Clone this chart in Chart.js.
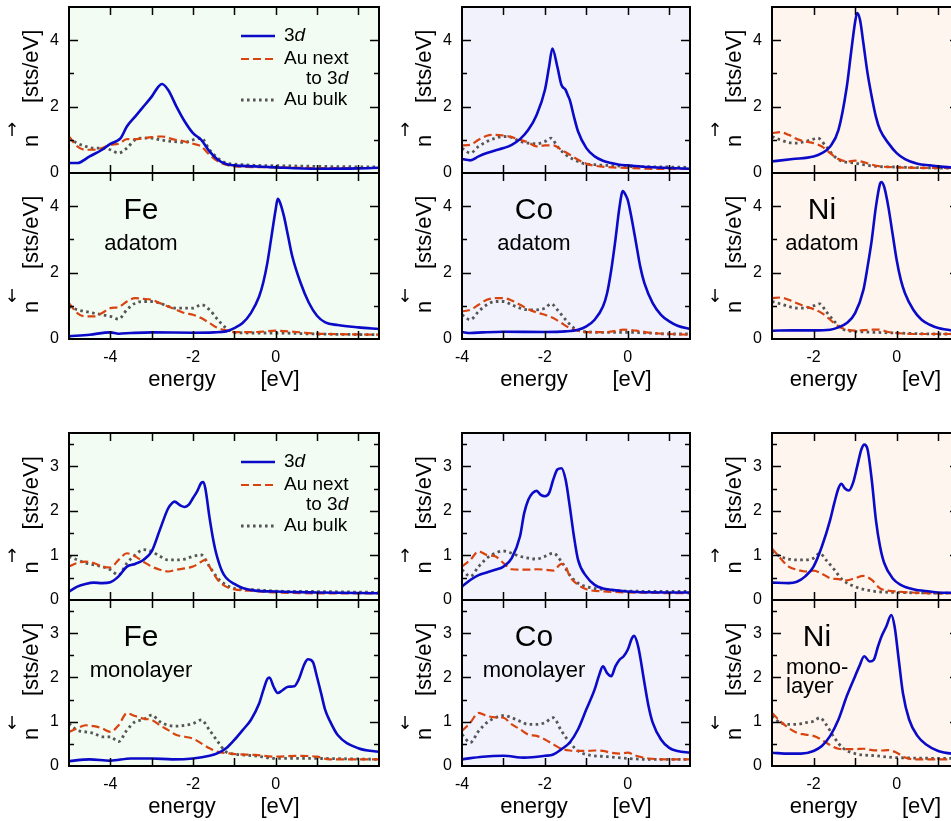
<!DOCTYPE html>
<html>
<head>
<meta charset="utf-8">
<script src="https://cdn.jsdelivr.net/npm/chart.js@4.4.0/dist/chart.umd.min.js"></script>
<style>
  html, body { margin: 0; padding: 0; background: #fff; }
  #wrap { position: relative; width: 951px; height: 821px; overflow: hidden; }
  #wrap canvas { position: absolute; }
</style>
</head>
<body>
<div id="wrap"></div>
<script>
// Density of states, [energy eV, states/eV]

// Fe adatom
const feAdUp3d = [[-5,0.3],[-4.8,0.3],[-4.5,0.5],[-4.2,0.7],[-4,0.88],[-3.85,0.96],[-3.75,1.05],[-3.6,1.4],[-3.4,1.7],[-3.2,2.0],[-3,2.3],[-2.85,2.58],[-2.75,2.68],[-2.6,2.5],[-2.4,2.0],[-2.2,1.55],[-2,1.2],[-1.8,1.0],[-1.6,0.65],[-1.4,0.4],[-1.2,0.27],[-1,0.23],[-0.5,0.2],[0,0.17],[1,0.13],[2,0.14],[2.5,0.16]]
const feAdUpNext = [[-5,1.1],[-4.8,0.8],[-4.6,0.7],[-4.4,0.7],[-4.2,0.75],[-4,0.85],[-3.8,0.88],[-3.6,1.02],[-3.4,1.02],[-3.2,1.05],[-3,1.08],[-2.75,1.1],[-2.5,1.02],[-2.2,0.95],[-2,0.88],[-1.8,0.8],[-1.6,0.55],[-1.4,0.35],[-1.2,0.25],[-1,0.2],[0,0.17],[1,0.15],[2.5,0.15]]
const feAdUpBulk = [[-5,1.05],[-4.8,0.9],[-4.6,0.8],[-4.4,0.75],[-4.2,0.75],[-4,0.7],[-3.8,0.6],[-3.6,0.75],[-3.4,1.0],[-3.2,1.05],[-3,1.05],[-2.8,1.0],[-2.5,0.95],[-2.2,0.92],[-2,1.0],[-1.8,1.05],[-1.6,0.7],[-1.4,0.45],[-1.2,0.3],[-1,0.27],[-0.5,0.23],[0,0.22],[1,0.2],[2.5,0.18]]
const feAdDn3d = [[-5,0.08],[-4.5,0.13],[-4,0.2],[-3.8,0.16],[-3.5,0.18],[-3,0.2],[-2,0.19],[-1.5,0.2],[-1.2,0.23],[-1,0.33],[-0.8,0.48],[-0.6,0.78],[-0.4,1.28],[-0.3,1.7],[-0.2,2.3],[-0.1,3.1],[0,3.9],[0.05,4.22],[0.1,4.13],[0.2,3.7],[0.3,3.1],[0.4,2.5],[0.6,1.7],[0.8,1.1],[1,0.7],[1.2,0.5],[1.5,0.42],[2,0.35],[2.5,0.3]]
const feAdDnNext = [[-5,1.08],[-4.8,0.78],[-4.6,0.68],[-4.4,0.68],[-4.2,0.78],[-4,0.93],[-3.8,0.96],[-3.6,1.13],[-3.4,1.23],[-3.2,1.21],[-3,1.18],[-2.8,1.08],[-2.6,0.98],[-2.4,0.88],[-2.2,0.78],[-2,0.73],[-1.8,0.63],[-1.6,0.48],[-1.4,0.33],[-1.2,0.26],[-1,0.21],[-0.5,0.21],[0,0.25],[0.5,0.21],[1,0.16],[1.3,0.15],[2.5,0.13]]
const feAdDnBulk = [[-5,0.98],[-4.8,0.88],[-4.6,0.83],[-4.4,0.78],[-4.2,0.73],[-4,0.68],[-3.8,0.6],[-3.6,0.88],[-3.4,1.08],[-3.2,1.13],[-3,1.13],[-2.8,1.08],[-2.6,0.98],[-2.4,0.93],[-2.2,0.93],[-2,0.93],[-1.8,1.03],[-1.6,0.88],[-1.4,0.58],[-1.2,0.33],[-1,0.2],[-0.5,0.18],[0,0.18],[1,0.15],[2.5,0.13]]

// Co adatom
const coAdUp3d = [[-4,0.42],[-3.8,0.38],[-3.6,0.5],[-3.4,0.6],[-3.2,0.68],[-3,0.75],[-2.8,0.85],[-2.6,1.02],[-2.4,1.3],[-2.2,1.75],[-2,2.5],[-1.9,3.2],[-1.82,3.75],[-1.7,3.2],[-1.6,2.65],[-1.5,2.5],[-1.45,2.35],[-1.4,2.2],[-1.3,1.7],[-1.2,1.25],[-1,0.75],[-0.8,0.5],[-0.6,0.37],[-0.4,0.3],[-0.2,0.25],[0,0.23],[0.5,0.18],[1,0.15],[1.5,0.13]]
const coAdUpNext = [[-4,0.83],[-3.8,0.85],[-3.6,1.0],[-3.4,1.12],[-3.2,1.15],[-3,1.13],[-2.8,1.08],[-2.6,1.0],[-2.4,0.92],[-2.2,0.8],[-2,0.83],[-1.8,0.83],[-1.6,0.7],[-1.4,0.55],[-1.2,0.4],[-1,0.28],[-0.8,0.22],[-0.5,0.18],[0,0.15],[1,0.12],[1.5,0.12]]
const coAdUpBulk = [[-4,0.75],[-3.8,0.6],[-3.6,0.8],[-3.4,0.95],[-3.2,1.05],[-3,1.1],[-2.8,1.07],[-2.6,0.95],[-2.4,0.9],[-2.2,0.88],[-2,0.95],[-1.85,1.05],[-1.7,0.8],[-1.5,0.55],[-1.3,0.4],[-1.1,0.3],[-0.8,0.25],[-0.5,0.23],[0,0.2],[1,0.18],[1.5,0.17]]
const coAdDn3d = [[-4,0.21],[-3.8,0.18],[-3.5,0.2],[-3,0.22],[-2,0.21],[-1.5,0.23],[-1.2,0.28],[-1,0.38],[-0.8,0.58],[-0.6,0.98],[-0.5,1.38],[-0.4,2.08],[-0.3,2.98],[-0.2,3.98],[-0.12,4.46],[-0.05,4.33],[0,4.18],[0.1,3.58],[0.2,2.88],[0.3,2.18],[0.4,1.68],[0.6,1.08],[0.8,0.73],[1,0.53],[1.2,0.4],[1.5,0.3]]
const coAdDnNext = [[-4,0.83],[-3.8,0.88],[-3.6,1.03],[-3.4,1.18],[-3.2,1.23],[-3,1.23],[-2.8,1.16],[-2.6,1.03],[-2.4,0.9],[-2.2,0.8],[-2,0.73],[-1.8,0.63],[-1.6,0.48],[-1.4,0.33],[-1.2,0.25],[-1,0.21],[-0.5,0.21],[-0.1,0.28],[0.2,0.25],[0.6,0.18],[1,0.15],[1.5,0.13]]
const coAdDnBulk = [[-4,0.73],[-3.8,0.58],[-3.6,0.83],[-3.4,1.03],[-3.2,1.13],[-3,1.13],[-2.8,1.03],[-2.6,0.93],[-2.4,0.88],[-2.2,0.88],[-2,0.93],[-1.85,1.06],[-1.7,0.88],[-1.5,0.58],[-1.3,0.33],[-1.1,0.23],[-0.5,0.2],[0,0.2],[0.5,0.18],[1,0.15],[1.5,0.15]]

// Ni adatom
const niAdUp3d = [[-3,0.35],[-2.5,0.42],[-2,0.5],[-1.8,0.6],[-1.6,0.8],[-1.4,1.3],[-1.2,2.6],[-1.1,3.6],[-1,4.55],[-0.95,4.82],[-0.88,4.6],[-0.8,3.9],[-0.7,3.0],[-0.6,2.3],[-0.5,1.7],[-0.4,1.3],[-0.2,0.9],[0,0.6],[0.2,0.42],[0.5,0.28],[0.8,0.23],[1,0.2],[1.5,0.15]]
const niAdUpNext = [[-3,1.2],[-2.8,1.23],[-2.6,1.15],[-2.4,1.02],[-2.2,0.95],[-2,0.9],[-1.8,0.8],[-1.6,0.6],[-1.4,0.42],[-1.2,0.35],[-1,0.37],[-0.8,0.33],[-0.6,0.25],[-0.4,0.2],[0,0.17],[1,0.15],[1.5,0.15]]
const niAdUpBulk = [[-3,1.1],[-2.8,1.0],[-2.6,0.92],[-2.4,0.9],[-2.2,0.95],[-2,1.02],[-1.9,1.05],[-1.7,0.8],[-1.5,0.5],[-1.3,0.35],[-1,0.3],[-0.8,0.25],[-0.5,0.2],[0,0.18],[1,0.15],[1.5,0.15]]
const niAdDn3d = [[-3,0.25],[-2.5,0.26],[-2,0.26],[-1.6,0.28],[-1.4,0.35],[-1.2,0.48],[-1,0.78],[-0.8,1.48],[-0.7,2.18],[-0.6,2.98],[-0.5,3.98],[-0.4,4.68],[-0.37,4.73],[-0.3,4.58],[-0.2,3.98],[-0.1,3.18],[0,2.38],[0.1,1.78],[0.2,1.38],[0.4,0.88],[0.6,0.58],[0.8,0.43],[1,0.33],[1.5,0.23]]
const niAdDnNext = [[-3,1.23],[-2.8,1.25],[-2.6,1.18],[-2.4,1.08],[-2.2,0.98],[-2,0.9],[-1.8,0.78],[-1.6,0.58],[-1.4,0.38],[-1.2,0.28],[-1,0.25],[-0.6,0.28],[-0.4,0.28],[-0.2,0.21],[0,0.18],[0.5,0.15],[1.5,0.15]]
const niAdDnBulk = [[-3,1.13],[-2.8,1.06],[-2.6,0.98],[-2.4,0.93],[-2.2,0.93],[-2,1.0],[-1.85,1.06],[-1.7,0.83],[-1.5,0.53],[-1.3,0.3],[-1,0.23],[-0.5,0.2],[0,0.18],[1,0.15],[1.5,0.15]]

// Fe monolayer
const feMlUp3d = [[-5,0.19],[-4.8,0.3],[-4.6,0.36],[-4.4,0.39],[-4.2,0.38],[-4,0.4],[-3.8,0.53],[-3.6,0.75],[-3.4,0.81],[-3.2,0.9],[-3,1.09],[-2.8,1.58],[-2.6,2.06],[-2.5,2.18],[-2.45,2.21],[-2.3,2.12],[-2.2,2.09],[-2.1,2.14],[-2,2.29],[-1.9,2.44],[-1.8,2.63],[-1.75,2.65],[-1.7,2.5],[-1.6,1.85],[-1.5,1.3],[-1.44,1.05],[-1.3,0.65],[-1.2,0.5],[-1,0.36],[-0.8,0.27],[-0.5,0.21],[0,0.19],[1,0.17],[2.5,0.15]]
const feMlUpNext = [[-5,0.75],[-4.8,0.83],[-4.6,0.86],[-4.4,0.83],[-4.2,0.75],[-4,0.73],[-3.8,0.9],[-3.6,1.05],[-3.4,0.98],[-3.2,0.86],[-3,0.75],[-2.8,0.68],[-2.6,0.64],[-2.4,0.68],[-2.2,0.71],[-2,0.75],[-1.8,0.86],[-1.7,0.9],[-1.6,0.75],[-1.4,0.45],[-1.2,0.3],[-1,0.24],[-0.5,0.2],[0,0.17],[1,0.15],[2.5,0.15]]
const feMlUpBulk = [[-5,0.98],[-4.8,0.9],[-4.6,0.83],[-4.4,0.79],[-4.2,0.75],[-4,0.68],[-3.8,0.56],[-3.6,0.83],[-3.4,1.01],[-3.2,1.13],[-3,1.09],[-2.8,0.98],[-2.6,0.9],[-2.4,0.9],[-2.2,0.92],[-2,0.98],[-1.8,1.01],[-1.6,0.75],[-1.4,0.49],[-1.2,0.34],[-1,0.26],[-0.5,0.23],[0,0.2],[1,0.19],[2.5,0.17]]
const feMlDn3d = [[-5,0.11],[-4.5,0.15],[-4,0.12],[-3.5,0.17],[-3,0.17],[-2.5,0.15],[-2,0.17],[-1.6,0.23],[-1.4,0.29],[-1.2,0.4],[-1,0.59],[-0.8,0.81],[-0.6,1.04],[-0.4,1.41],[-0.3,1.71],[-0.2,1.97],[-0.15,2.0],[-0.05,1.79],[0.05,1.65],[0.15,1.7],[0.3,1.79],[0.45,1.8],[0.55,1.94],[0.7,2.31],[0.78,2.41],[0.9,2.35],[1,2.01],[1.1,1.64],[1.2,1.26],[1.3,1.04],[1.5,0.7],[2,0.4],[2.5,0.32]]
const feMlDnNext = [[-5,0.77],[-4.8,0.85],[-4.6,0.92],[-4.4,0.9],[-4.2,0.85],[-4,0.77],[-3.8,0.92],[-3.6,1.19],[-3.4,1.13],[-3.2,1.07],[-3,1.04],[-2.8,0.92],[-2.6,0.81],[-2.4,0.7],[-2.2,0.66],[-2,0.62],[-1.8,0.51],[-1.6,0.4],[-1.4,0.32],[-1.2,0.29],[-1,0.27],[-0.5,0.25],[0,0.21],[0.5,0.23],[1,0.21],[1.3,0.15],[2.5,0.15]]
const feMlDnBulk = [[-5,0.96],[-4.8,0.81],[-4.6,0.77],[-4.4,0.74],[-4.2,0.66],[-4,0.66],[-3.8,0.55],[-3.6,0.81],[-3.4,1.0],[-3.2,1.05],[-3,1.15],[-2.8,1.0],[-2.6,0.92],[-2.4,0.9],[-2.2,0.92],[-2,0.96],[-1.8,1.04],[-1.6,0.81],[-1.4,0.55],[-1.2,0.32],[-1,0.27],[-0.5,0.23],[0,0.17],[1,0.17],[2.5,0.15]]

// Co monolayer
const coMlUp3d = [[-4,0.3],[-3.8,0.45],[-3.6,0.56],[-3.4,0.62],[-3.2,0.68],[-3,0.75],[-2.8,0.94],[-2.6,1.43],[-2.5,1.95],[-2.4,2.25],[-2.3,2.4],[-2.2,2.45],[-2.1,2.36],[-2,2.33],[-1.9,2.4],[-1.8,2.7],[-1.7,2.93],[-1.6,2.96],[-1.5,2.7],[-1.4,2.1],[-1.3,1.43],[-1.2,0.9],[-1,0.53],[-0.8,0.34],[-0.6,0.26],[-0.4,0.23],[0,0.19],[1,0.17],[1.5,0.17]]
const coMlUpNext = [[-4,0.75],[-3.8,0.9],[-3.6,1.09],[-3.4,1.01],[-3.2,0.98],[-3,0.83],[-2.8,0.69],[-2.6,0.68],[-2.4,0.68],[-2.2,0.69],[-2,0.68],[-1.8,0.66],[-1.6,0.81],[-1.5,0.75],[-1.4,0.53],[-1.2,0.34],[-1,0.24],[-0.5,0.19],[0,0.17],[1.5,0.15]]
const coMlUpBulk = [[-4,0.68],[-3.8,0.53],[-3.6,0.75],[-3.4,0.94],[-3.2,1.05],[-3,1.1],[-2.8,1.05],[-2.6,0.98],[-2.4,0.94],[-2.2,0.92],[-2,0.98],[-1.8,1.05],[-1.6,0.86],[-1.4,0.56],[-1.2,0.38],[-1,0.3],[-0.5,0.23],[0,0.2],[1.5,0.19]]
const coMlDn3d = [[-4,0.15],[-3.5,0.21],[-3,0.23],[-2.5,0.19],[-2,0.23],[-1.8,0.26],[-1.6,0.38],[-1.4,0.53],[-1.2,0.83],[-1,1.28],[-0.8,1.73],[-0.7,2.03],[-0.6,2.25],[-0.5,2.1],[-0.4,2.03],[-0.3,2.25],[-0.2,2.4],[-0.1,2.48],[0,2.63],[0.1,2.89],[0.15,2.94],[0.25,2.7],[0.4,1.88],[0.5,1.35],[0.6,0.98],[0.8,0.6],[1,0.41],[1.2,0.34],[1.5,0.3]]
const coMlDnNext = [[-4,0.79],[-3.8,0.98],[-3.6,1.2],[-3.4,1.13],[-3.2,1.1],[-3,1.09],[-2.8,0.94],[-2.6,0.83],[-2.4,0.71],[-2.2,0.68],[-2,0.6],[-1.8,0.49],[-1.6,0.39],[-1.4,0.35],[-1.2,0.34],[-1,0.34],[-0.8,0.35],[-0.6,0.34],[-0.4,0.3],[-0.2,0.28],[0,0.3],[0.2,0.23],[0.5,0.17],[1,0.15],[1.5,0.15]]
const coMlDnBulk = [[-4,0.71],[-3.8,0.53],[-3.6,0.79],[-3.4,0.98],[-3.2,1.09],[-3,1.14],[-2.8,1.09],[-2.6,1.01],[-2.4,0.94],[-2.2,0.94],[-2,0.98],[-1.8,1.09],[-1.6,0.79],[-1.4,0.53],[-1.2,0.34],[-1,0.26],[-0.5,0.21],[0,0.17],[0.5,0.15],[1.5,0.15]]

// Ni monolayer
const niMlUp3d = [[-3,0.39],[-2.6,0.38],[-2.4,0.41],[-2.2,0.53],[-2,0.75],[-1.8,1.2],[-1.6,1.8],[-1.5,2.18],[-1.4,2.51],[-1.33,2.61],[-1.25,2.51],[-1.15,2.46],[-1.05,2.63],[-0.95,3.0],[-0.85,3.38],[-0.78,3.49],[-0.7,3.38],[-0.6,2.7],[-0.5,1.8],[-0.4,1.2],[-0.3,0.83],[-0.1,0.49],[0.1,0.34],[0.4,0.24],[0.8,0.19],[1,0.17],[1.5,0.16]]
const niMlUpNext = [[-3,1.16],[-2.8,0.94],[-2.6,0.75],[-2.4,0.68],[-2.2,0.64],[-2,0.66],[-1.8,0.59],[-1.6,0.49],[-1.4,0.47],[-1.2,0.44],[-1,0.49],[-0.8,0.54],[-0.6,0.45],[-0.4,0.26],[-0.2,0.21],[0,0.19],[1,0.15],[1.5,0.15]]
const niMlUpBulk = [[-3,1.09],[-2.8,0.98],[-2.6,0.92],[-2.4,0.9],[-2.2,0.9],[-2,0.94],[-1.85,1.05],[-1.7,0.9],[-1.5,0.68],[-1.3,0.45],[-1,0.3],[-0.8,0.24],[-0.5,0.19],[0,0.17],[1.5,0.15]]
const niMlDn3d = [[-3,0.3],[-2.6,0.28],[-2.3,0.28],[-2,0.34],[-1.8,0.45],[-1.6,0.68],[-1.4,1.05],[-1.2,1.58],[-1,2.03],[-0.9,2.25],[-0.78,2.48],[-0.65,2.36],[-0.55,2.4],[-0.45,2.7],[-0.35,2.96],[-0.25,3.15],[-0.13,3.41],[-0.05,3.15],[0.05,2.4],[0.15,1.65],[0.3,1.05],[0.5,0.68],[0.7,0.49],[1,0.34],[1.5,0.26]]
const niMlDnNext = [[-3,1.2],[-2.8,1.01],[-2.6,0.86],[-2.4,0.75],[-2.2,0.71],[-2,0.68],[-1.8,0.59],[-1.6,0.47],[-1.4,0.39],[-1.2,0.38],[-1,0.38],[-0.8,0.39],[-0.6,0.36],[-0.4,0.35],[-0.2,0.36],[0,0.3],[0.2,0.19],[0.5,0.15],[1.5,0.15]]
const niMlDnBulk = [[-3,1.13],[-2.8,0.98],[-2.6,0.94],[-2.4,0.94],[-2.2,0.98],[-2,1.01],[-1.85,1.09],[-1.7,0.94],[-1.5,0.64],[-1.3,0.41],[-1,0.28],[-0.5,0.23],[0,0.19],[1.5,0.17]]

const elements = ["Fe", "Co", "Ni"]
const energyRanges = [[-5, 2.5], [-4, 1.5], [-3, 1.5]]
const yMaxAdatom = 5
const yMaxMonolayer = 3.75
const legendLabels = ["3d", "Au next", "to 3d", "Au bulk"]

const panelData = {
  Fe: [[feAdUp3d, feAdUpNext, feAdUpBulk], [feAdDn3d, feAdDnNext, feAdDnBulk], [feMlUp3d, feMlUpNext, feMlUpBulk], [feMlDn3d, feMlDnNext, feMlDnBulk]],
  Co: [[coAdUp3d, coAdUpNext, coAdUpBulk], [coAdDn3d, coAdDnNext, coAdDnBulk], [coMlUp3d, coMlUpNext, coMlUpBulk], [coMlDn3d, coMlDnNext, coMlDnBulk]],
  Ni: [[niAdUp3d, niAdUpNext, niAdUpBulk], [niAdDn3d, niAdDnNext, niAdDnBulk], [niMlUp3d, niMlUpNext, niMlUpBulk], [niMlDn3d, niMlDnNext, niMlDnBulk]],
}

// layout and styles
const FONT = '"Liberation Sans", Arial, Helvetica, sans-serif'
const LINE = {
  d: { color: "#0a0ac8", width: 2.6, dash: [] },
  next: { color: "#d9430f", width: 2.2, dash: [8, 4] },
  bulk: { color: "#555555", width: 2.8, dash: [2.6, 3.4] },
}
const cols = [
  { left: 69, right: 379, bg: "#f2fcf2", tagX: 72 },
  { left: 462, right: 690, bg: "#f2f2fd", tagX: 72 },
  { left: 772, right: 959, bg: "#fef5ef", tagX: 50 },
]
const rows = [
  { top: 7, bottom: 173, ymax: yMaxAdatom, spin: "up" },
  { top: 173, bottom: 339, ymax: yMaxAdatom, spin: "down", sub: "adatom", xaxis: true },
  { top: 433, bottom: 600, ymax: yMaxMonolayer, spin: "up" },
  { top: 600, bottom: 766, ymax: yMaxMonolayer, spin: "down", sub: "monolayer", xaxis: true },
]
const PAD = 12
const YAXIS_W = 69
const XAXIS_H = 70

const pts = (arr) => arr.map(([x, y]) => ({ x, y }))

// scales keep their own label padding out of the layout, panels are placed by hand
const noScalePadding = (s) => {
  s.paddingTop = 0
  s.paddingBottom = 0
  s.paddingLeft = 0
  s.paddingRight = 0
}

function drawLegend(ctx, a) {
  const items = [
    { y: a.top + 29, st: LINE.d },
    { y: a.top + 52, st: LINE.next },
    { y: a.top + 93, st: LINE.bulk },
  ]
  items.forEach((it) => {
    ctx.save()
    ctx.strokeStyle = it.st.color
    ctx.lineWidth = it.st.width
    ctx.setLineDash(it.st.dash)
    ctx.beginPath()
    ctx.moveTo(a.left + 172, it.y)
    ctx.lineTo(a.left + 206, it.y)
    ctx.stroke()
    ctx.restore()
  })
  ctx.fillStyle = "#000"
  ctx.textAlign = "left"
  ctx.textBaseline = "middle"
  const tx = a.left + 215
  // "3d" with italic d
  ctx.font = `19px ${FONT}`
  ctx.fillText("3", tx, a.top + 29)
  let w = ctx.measureText("3").width
  ctx.font = `italic 19px ${FONT}`
  ctx.fillText("d", tx + w, a.top + 29)
  ctx.font = `19px ${FONT}`
  ctx.fillText(legendLabels[1], tx, a.top + 52)
  ctx.fillText("to 3", tx + 22, a.top + 72)
  w = ctx.measureText("to 3").width
  ctx.font = `italic 19px ${FONT}`
  ctx.fillText("d", tx + 22 + w, a.top + 72)
  ctx.font = `19px ${FONT}`
  ctx.fillText(legendLabels[3], tx, a.top + 93)
}

function panelPlugin(meta) {
  return {
    id: "panel",
    beforeDraw(chart) {
      const { ctx, chartArea: a } = chart
      ctx.save()
      ctx.fillStyle = meta.bg
      ctx.fillRect(a.left, a.top, a.right - a.left, a.bottom - a.top)
      ctx.restore()
    },
    afterDraw(chart) {
      const { ctx, chartArea: a } = chart
      const xs = chart.scales.x
      const ys = chart.scales.y
      ctx.save()
      ctx.strokeStyle = "#000"
      ctx.lineWidth = 1.5
      ctx.beginPath()
      // x ticks every 1 eV, inward on top and bottom
      for (let v = Math.ceil(meta.xmin); v <= meta.xmax; v++) {
        if (v === meta.xmin || v === meta.xmax) continue
        const px = Math.round(xs.getPixelForValue(v)) + 0.5
        ctx.moveTo(px, a.top); ctx.lineTo(px, a.top + 8)
        ctx.moveTo(px, a.bottom); ctx.lineTo(px, a.bottom - 8)
      }
      // y ticks, major and minor, inward on left and right
      const step = meta.ymax === yMaxAdatom ? 1 : 0.5
      for (let v = step; v < meta.ymax; v += step) {
        const major = meta.ymax === yMaxAdatom ? v % 2 === 0 : Number.isInteger(v)
        const len = major ? 9 : 5
        const py = Math.round(ys.getPixelForValue(v)) + 0.5
        ctx.moveTo(a.left, py); ctx.lineTo(a.left + len, py)
        ctx.moveTo(a.right, py); ctx.lineTo(a.right - len, py)
      }
      ctx.stroke()
      // frame
      ctx.lineWidth = 2
      ctx.strokeRect(a.left, a.top, a.right - a.left, a.bottom - a.top)

      // y title: n(arrow) [sts/eV]
      const cy = (a.top + a.bottom) / 2
      ctx.fillStyle = "#000"
      ctx.save()
      ctx.translate(a.left - 31, cy)
      ctx.rotate(-Math.PI / 2)
      ctx.font = `22px ${FONT}`
      ctx.textAlign = "left"
      ctx.textBaseline = "alphabetic"
      ctx.fillText("n", -57, 0)
      ctx.fillText("[sts/eV]", -13, 0)
      ctx.restore()
      ctx.font = `18px "DejaVu Sans"`
      ctx.textAlign = "center"
      ctx.textBaseline = "middle"
      ctx.fillText(meta.spin === "up" ? "\u2191" : "\u2193", a.left - 57, cy + 41)

      // x title
      if (meta.xaxis) {
        const cx = (a.left + a.right) / 2
        ctx.font = `22px ${FONT}`
        ctx.textAlign = "center"
        ctx.textBaseline = "alphabetic"
        ctx.fillText("energy", cx - 42, a.bottom + 47)
        ctx.fillText("[eV]", cx + 56, a.bottom + 47)
      }

      // element tag
      if (meta.sub) {
        const tx = a.left + meta.tagX
        ctx.textAlign = "center"
        ctx.textBaseline = "alphabetic"
        ctx.font = `30px ${FONT}`
        if (meta.el === "Ni" && meta.sub === "monolayer") {
          ctx.fillText(meta.el, a.left + 45, a.top + 46)
          ctx.font = `22px ${FONT}`
          ctx.textAlign = "left"
          ctx.fillText("mono-", a.left + 14, a.top + 74)
          ctx.fillText("layer", a.left + 14, a.top + 93)
        } else {
          ctx.fillText(meta.el, tx, a.top + 46)
          ctx.font = `22px ${FONT}`
          ctx.fillText(meta.sub, tx, a.top + 77)
        }
      }

      if (meta.legend) drawLegend(ctx, a)
      ctx.restore()
    },
  }
}

const wrap = document.getElementById("wrap")

elements.forEach((el, ci) => {
  const col = cols[ci]
  const [xmin, xmax] = energyRanges[ci]
  rows.forEach((row, ri) => {
    const [d3, next, bulk] = panelData[el][ri]
    const w = YAXIS_W + (col.right - col.left) + PAD
    const h = PAD + (row.bottom - row.top) + (row.xaxis ? XAXIS_H : PAD)
    const canvas = document.createElement("canvas")
    canvas.width = w
    canvas.height = h
    canvas.style.left = col.left - YAXIS_W + "px"
    canvas.style.top = row.top - PAD + "px"
    canvas.style.width = w + "px"
    canvas.style.height = h + "px"
    wrap.appendChild(canvas)

    const meta = {
      el, xmin, xmax, ymax: row.ymax, spin: row.spin, xaxis: row.xaxis, sub: row.sub,
      bg: col.bg, tagX: col.tagX, legend: ci === 0 && row.spin === "up",
    }
    const ds = (arr, st, order) => ({
      data: pts(arr),
      borderColor: st.color,
      borderWidth: st.width,
      borderDash: st.dash,
      pointRadius: 0,
      fill: false,
      cubicInterpolationMode: "monotone",
      order,
    })

    new Chart(canvas, {
      type: "line",
      data: { datasets: [ds(d3, LINE.d, 0), ds(next, LINE.next, 1), ds(bulk, LINE.bulk, 2)] },
      options: {
        responsive: false,
        animation: false,
        devicePixelRatio: 1,
        events: [],
        layout: { padding: { top: PAD, right: PAD, bottom: row.xaxis ? 0 : PAD, left: 0 } },
        plugins: { legend: { display: false }, tooltip: { enabled: false } },
        scales: {
          x: {
            type: "linear",
            min: xmin,
            max: xmax,
            display: !!row.xaxis,
            grid: { display: false, drawTicks: false },
            border: { display: false },
            ticks: {
              stepSize: 1,
              autoSkip: false,
              maxRotation: 0,
              padding: 9,
              color: "#000",
              font: { family: FONT, size: 16 },
              callback: (v) => (Number.isInteger(v) && v % 2 === 0 ? String(v) : ""),
            },
            afterFit: (s) => {
              noScalePadding(s)
              if (row.xaxis) s.height = XAXIS_H
            },
          },
          y: {
            type: "linear",
            min: 0,
            max: row.ymax,
            grid: { display: false, drawTicks: false },
            border: { display: false },
            ticks: {
              stepSize: row.ymax === yMaxAdatom ? 1 : 0.5,
              autoSkip: false,
              padding: 10,
              color: "#000",
              font: { family: FONT, size: 16 },
              callback: (v) => {
                if (!Number.isInteger(v)) return ""
                if (row.ymax === yMaxAdatom && v % 2 !== 0) return ""
                return String(v)
              },
            },
            afterFit: (s) => {
              noScalePadding(s)
              s.width = YAXIS_W
            },
          },
        },
      },
      plugins: [panelPlugin(meta)],
    })
  })
})
</script>
</body>
</html>
